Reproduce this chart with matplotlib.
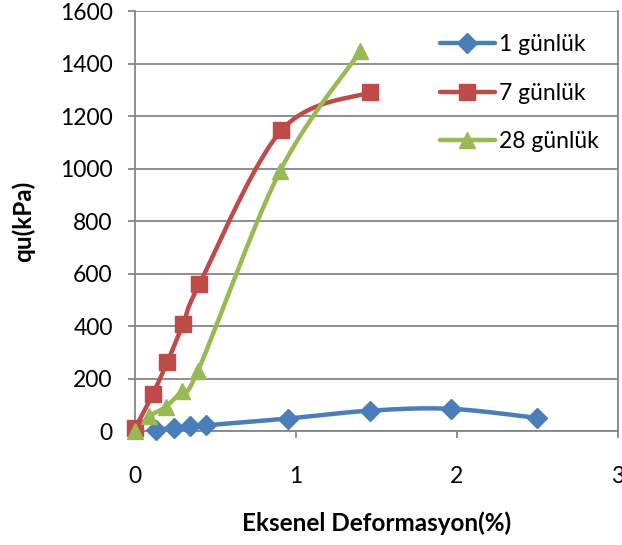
import numpy as np
import matplotlib
matplotlib.use('agg')
import matplotlib.pyplot as plt

plt.rcParams['font.family'] = ['Lato', 'DejaVu Sans']

# eksenel deformasyon (%) ve qu (kPa)
x_1 = [0.13, 0.24, 0.34, 0.44, 0.95, 1.46, 1.96, 2.50]
qu_1 = [5, 12, 18, 22, 48, 78, 85, 50]

x_7 = [0.0, 0.11, 0.20, 0.30, 0.40, 0.91, 1.46]
qu_7 = [10, 140, 262, 410, 560, 1147, 1292]

x_28 = [0.0, 0.09, 0.19, 0.29, 0.39, 0.90, 1.40]
qu_28 = [0, 57, 92, 153, 228, 990, 1448]

labels = ['1 günlük', '7 günlük', '28 günlük']
colors = ['#4A7EBB', '#BE4B48', '#98B954']
markers = ['D', 's', '^']
msizes = [10, 12, 12]

grid_gray = '#868686'


def smooth(xs, ys, n=40):
    # bezier segments with catmull-rom style control points
    p = np.column_stack([xs, ys]).astype(float)
    p_ext = np.vstack([p[0], p, p[-1]])
    out = []
    t = np.linspace(0, 1, n)[:, None]
    for i in range(len(p) - 1):
        p0, p1, p2, p3 = p_ext[i], p_ext[i + 1], p_ext[i + 2], p_ext[i + 3]
        c1 = p1 + (p2 - p0) / 6.0
        c2 = p2 - (p3 - p1) / 6.0
        seg = ((1 - t) ** 3) * p1 + 3 * ((1 - t) ** 2) * t * c1 \
            + 3 * (1 - t) * t ** 2 * c2 + t ** 3 * p2
        out.append(seg if i == 0 else seg[1:])
    out = np.vstack(out)
    return out[:, 0], out[:, 1]


fig = plt.figure(figsize=(6.22, 5.45), dpi=100)
ax = fig.add_axes([0.217, 0.209, 0.7765, 0.77])

series = [(x_1, qu_1), (x_7, qu_7), (x_28, qu_28)]
handles = []
for (xs, ys), lab, c, m, ms in zip(series, labels, colors, markers, msizes):
    sx, sy = smooth(xs, ys)
    ax.plot(sx, sy, color=c, lw=3.2, solid_capstyle='round', zorder=3,
            clip_on=False)
    ax.plot(xs, ys, ls='none', marker=m, ms=ms, color=c, mec=c, zorder=4,
            clip_on=False)
    h, = ax.plot([], [], color=c, lw=3.2, marker=m, ms=ms, mec=c,
                 solid_capstyle='round')
    handles.append(h)

ax.set_xlim(0, 3)
ax.set_ylim(0, 1600)
ax.set_xticks([0, 1, 2, 3])
ax.set_yticks(np.arange(0, 1601, 200))
ax.yaxis.grid(True, color=grid_gray, lw=1.3)
ax.set_axisbelow(True)

for side in ['left', 'bottom', 'right']:
    ax.spines[side].set_color(grid_gray)
    ax.spines[side].set_linewidth(1.3)
ax.spines['top'].set_visible(False)

ax.tick_params(axis='both', direction='out', length=5, width=1.3,
               color=grid_gray, labelsize=16.5)
ax.tick_params(axis='x', pad=20)
ax.tick_params(axis='y', pad=11)

ax.set_xlabel('Eksenel Deformasyon(%)', fontsize=17.5, fontweight='bold',
              labelpad=18)
ax.set_ylabel('qu(kPa)', fontsize=17.5, fontweight='bold', labelpad=18)

ax.legend(handles, labels, loc='upper left', bbox_to_anchor=(0.631, 0.946),
          frameon=False, fontsize=16.5, handlelength=2.4, handletextpad=0.17,
          labelspacing=1.2, borderaxespad=0, borderpad=0)

fig.savefig('out.png', dpi=100)
